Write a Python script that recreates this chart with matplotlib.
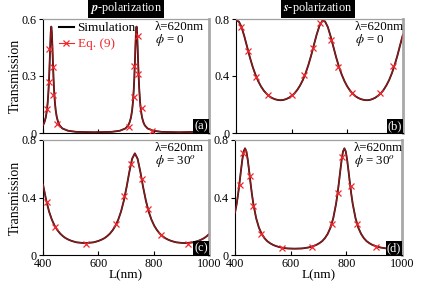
import matplotlib
matplotlib.use("Agg")
import matplotlib.pyplot as plt
from matplotlib.lines import Line2D

plt.rcParams['font.family'] = 'serif'
plt.rcParams['font.serif'] = ['Liberation Serif', 'DejaVu Serif']
plt.rcParams['mathtext.fontset'] = 'stix'
plt.rcParams['font.size'] = 9

# ---- data ----
# (a) p-polarization, phi = 0
a_L = [400, 405, 410, 414, 417, 420, 422, 424, 426, 428, 430, 432, 434, 436, 438, 440, 443, 446,
       450, 455, 460, 470, 490, 520, 584, 648, 678, 698, 708, 713, 718, 722, 725, 728, 730, 732,
       734, 736, 738, 740, 742, 744, 746, 748, 751, 754, 758, 763, 768, 778, 798, 828, 892, 956,
       986, 1000]
a_T = [0.040, 0.056, 0.082, 0.118, 0.161, 0.227, 0.288, 0.366, 0.453, 0.529, 0.560, 0.529, 0.453,
       0.366, 0.288, 0.227, 0.161, 0.118, 0.082, 0.056, 0.040, 0.024, 0.012, 0.006, 0.004, 0.006,
       0.012, 0.024, 0.040, 0.056, 0.082, 0.118, 0.161, 0.227, 0.288, 0.366, 0.453, 0.529, 0.560,
       0.529, 0.453, 0.366, 0.288, 0.227, 0.161, 0.118, 0.082, 0.056, 0.040, 0.024, 0.012, 0.006,
       0.004, 0.006, 0.012, 0.018]
a_mL = [414.5, 423, 423, 437, 437, 450.6, 710.8, 730, 730, 744.5, 744.5, 756.6, 795]
a_mT = [0.125, 0.27, 0.44, 0.35, 0.20, 0.05, 0.033, 0.353, 0.19, 0.512, 0.31, 0.133, 0.012]

# (b) s-polarization, phi = 0
b_L = list(range(400, 1001, 10))
b_T = [0.787, 0.783, 0.743, 0.678, 0.604, 0.530, 0.464, 0.409, 0.363, 0.326, 0.297, 0.275,
       0.257, 0.245, 0.237, 0.232, 0.230, 0.232, 0.238, 0.247, 0.261, 0.278, 0.302, 0.333,
       0.371, 0.419, 0.477, 0.544, 0.619, 0.692, 0.753, 0.787, 0.783, 0.743, 0.678, 0.604,
       0.530, 0.464, 0.409, 0.363, 0.326, 0.297, 0.275, 0.257, 0.245, 0.237, 0.232, 0.230,
       0.232, 0.238, 0.247, 0.261, 0.278, 0.302, 0.333, 0.371, 0.419, 0.477, 0.544, 0.619,
       0.692]
b_mL = [418, 444, 471, 514, 600, 645, 675, 702, 741, 768, 816, 917, 963]
b_mT = [0.746, 0.578, 0.395, 0.267, 0.267, 0.41, 0.60, 0.77, 0.65, 0.46, 0.283, 0.283, 0.47]

# (c) p-polarization, phi = 30
c_L = [400, 402, 412, 422, 432, 442, 452, 462, 472, 482, 492, 502, 512, 522, 532, 542, 552,
       562, 572, 582, 592, 602, 612, 622, 632, 642, 652, 662, 672, 682, 692, 702, 712, 722, 732,
       742, 752, 762, 772, 782, 792, 802, 812, 822, 832, 842, 852, 862, 872, 882, 892, 902, 912,
       922, 932, 942, 952, 962, 972, 982, 992, 1000]
c_T = [0.491, 0.471, 0.377, 0.302, 0.246, 0.204, 0.173, 0.149, 0.131, 0.117, 0.107, 0.099,
       0.093, 0.088, 0.086, 0.084, 0.083, 0.084, 0.086, 0.088, 0.093, 0.099, 0.107, 0.117,
       0.131, 0.149, 0.173, 0.204, 0.246, 0.302, 0.377, 0.471, 0.577, 0.669, 0.707, 0.669,
       0.577, 0.471, 0.377, 0.302, 0.246, 0.204, 0.173, 0.149, 0.131, 0.117, 0.107, 0.099,
       0.093, 0.088, 0.086, 0.084, 0.083, 0.084, 0.086, 0.088, 0.093, 0.099, 0.107, 0.117,
       0.131, 0.145]
c_mL = [413, 443, 554, 663, 693, 717, 757, 781, 826.5, 925]
c_mT = [0.369, 0.193, 0.079, 0.216, 0.41, 0.633, 0.529, 0.318, 0.139, 0.079]

# (d) s-polarization, phi = 30
d_L = [400, 406, 411, 416, 421, 426, 431, 436, 441, 446, 451, 456, 461, 466, 476, 486, 496,
       506, 516, 526, 536, 546, 556, 566, 576, 586, 596, 614, 633, 643, 653, 663, 673, 683, 693,
       703, 713, 723, 733, 743, 753, 763, 768, 773, 778, 783, 788, 793, 798, 803, 808, 813, 818,
       823, 833, 843, 853, 863, 873, 883, 893, 903, 913, 923, 933, 943, 953, 971, 990, 1000]
d_T = [0.294, 0.355, 0.421, 0.498, 0.581, 0.660, 0.720, 0.742, 0.720, 0.660, 0.581, 0.498,
       0.421, 0.355, 0.256, 0.190, 0.147, 0.117, 0.096, 0.082, 0.071, 0.063, 0.057, 0.052,
       0.049, 0.046, 0.045, 0.044, 0.045, 0.046, 0.049, 0.052, 0.057, 0.063, 0.071, 0.082,
       0.096, 0.117, 0.147, 0.190, 0.256, 0.355, 0.421, 0.498, 0.581, 0.660, 0.720, 0.742,
       0.720, 0.660, 0.581, 0.498, 0.421, 0.355, 0.256, 0.190, 0.147, 0.117, 0.096, 0.082,
       0.071, 0.063, 0.057, 0.052, 0.049, 0.046, 0.045, 0.044, 0.045, 0.046]
d_mL = [418, 430, 454, 466, 492, 568, 675.6, 750, 769, 785.6, 815.6, 839.5, 906.6]
d_mT = [0.49, 0.713, 0.55, 0.34, 0.144, 0.046, 0.053, 0.216, 0.429, 0.68, 0.48, 0.216, 0.053]

panels = [
    (a_L, a_T, a_mL, a_mT, [0, 0.3, 0.6], 0.6, '(a)', r'$\phi$ = 0'),
    (b_L, b_T, b_mL, b_mT, [0, 0.4, 0.8], 0.8, '(b)', r'$\phi$ = 0'),
    (c_L, c_T, c_mL, c_mT, [0, 0.4, 0.8], 0.8, '(c)', r'$\phi$ = 30$^o$'),
    (d_L, d_T, d_mL, d_mT, [0, 0.4, 0.8], 0.8, '(d)', r'$\phi$ = 30$^o$'),
]

W, H = 436, 285
fig = plt.figure(figsize=(W / 100, H / 100), dpi=100)
# axes boxes in pixels: left, top, right, bottom
boxes = [(43, 19, 209, 133), (236, 19, 403, 133), (43, 140, 209, 255), (235, 140, 402, 255)]
red = '#f0282c'

axes = []
for i, (L, T, mL, mT, yt, ymax, tag, phi) in enumerate(panels):
    l, t, r, b = boxes[i]
    ax = fig.add_axes([l / W, 1 - b / H, (r - l) / W, (b - t) / H])
    axes.append(ax)
    ax.plot(L, T, color='black', lw=1.3, zorder=2)
    ax.plot(L, T, color=red, lw=1.0, alpha=0.6, zorder=3)
    ax.plot(mL, mT, ls='none', marker='x', color=red, ms=4.5, mew=0.9, zorder=4)
    ax.set_xlim(400, 1000)
    ax.set_ylim(0, ymax)
    ax.set_xticks([400, 600, 800, 1000])
    ax.set_yticks(yt)
    ax.set_yticklabels(['0' if v == 0 else str(v) for v in yt])
    ax.tick_params(axis='x', direction='in', length=3, width=0.8, pad=2, labelsize=8.7)
    ax.tick_params(axis='y', direction='out', length=3, width=0.8, pad=1.5, labelsize=8.7)
    for s in ['left', 'bottom']:
        ax.spines[s].set_color('black')
        ax.spines[s].set_linewidth(0.8)
    ax.spines['top'].set_color('#a0a0a0')
    ax.spines['top'].set_linewidth(0.9)
    ax.spines['right'].set_color('#a8a8a8')
    ax.spines['right'].set_linewidth(2.0)
    if i < 2:
        ax.tick_params(axis='x', labelbottom=False)
    else:
        ax.set_xlabel('L(nm)', labelpad=0, fontsize=9.5)
    if i % 2 == 0:
        ax.set_ylabel('Transmission', fontsize=10)
        ax.yaxis.set_label_coords(-0.125, 0.5)
    tx = 0.675 if i % 2 == 0 else 0.71
    ax.text(tx, 0.985, 'λ=620nm\n' + phi, transform=ax.transAxes, ha='left', va='top',
            fontsize=9.3, linespacing=0.95)
    ax.text(0.995, 0.01, tag, transform=ax.transAxes, ha='right', va='bottom', color='white',
            fontsize=9, bbox=dict(facecolor='black', edgecolor='none', pad=0.8), zorder=5)

axes[0].legend(handles=[Line2D([], [], color='black', lw=1.5),
                        Line2D([], [], color=red, lw=0.8, marker='x', ms=4.5, mew=0.9)],
               labels=['Simulation', 'Eq. (9)'], loc='upper left', bbox_to_anchor=(0.065, 1.02),
               frameon=False, handlelength=1.1, handletextpad=0.3, labelspacing=0.3,
               borderaxespad=0, fontsize=9.5, labelcolor=['black', red])

fig.text(126 / W, 1 - 8 / H, r'$\boldsymbol{p}$-polarization', ha='center', va='center',
         color='white', fontsize=8.8,
         bbox=dict(facecolor='black', edgecolor='none', pad=1.6))
fig.text(318 / W, 1 - 8 / H, r'$\boldsymbol{s}$-polarization', ha='center', va='center',
         color='white', fontsize=8.8,
         bbox=dict(facecolor='black', edgecolor='none', pad=1.6))

fig.savefig('out.png', dpi=100)
